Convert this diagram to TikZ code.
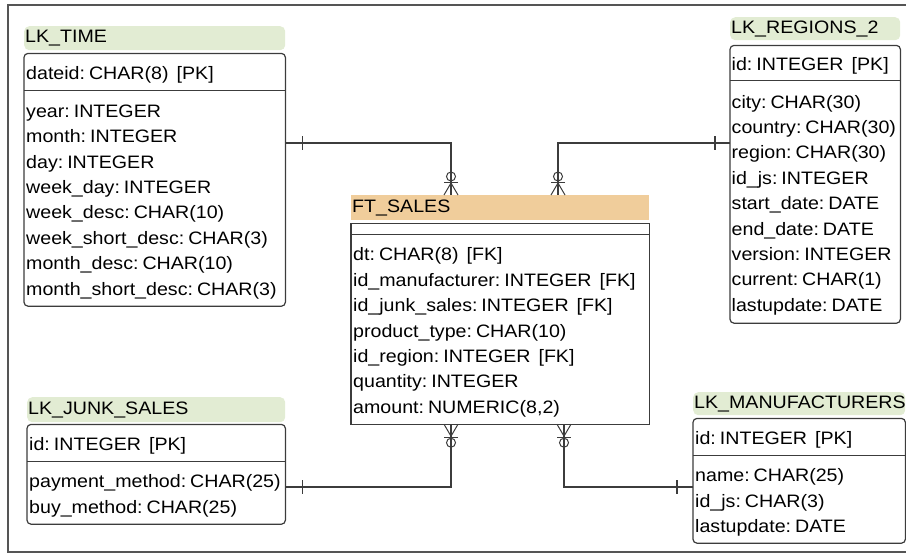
\documentclass[tikz,border=0pt]{standalone}
\usepackage{fontspec}
\setmainfont{Liberation Sans}[FakeStretch=1.09]
\usetikzlibrary{positioning}
\definecolor{titlegreen}{RGB}{226,236,211}
\definecolor{titleorange}{RGB}{240,205,155}
\definecolor{linegray}{RGB}{60,60,60}
\definecolor{framegray}{RGB}{85,85,85}
\tikzset{
  erfont/.style={font=\fontsize{18}{25.4}\selectfont},
  lktitle/.style={rectangle, rounded corners=5pt, fill=titlegreen, anchor=north west,
              inner xsep=1pt, inner ysep=0pt, align=left, erfont},
  fttitle/.style={lktitle, rounded corners=0pt, fill=titleorange},
  section/.style={rectangle, anchor=north west, inner xsep=2pt, inner ysep=0pt,
              align=left, erfont,
              execute at begin node={\frenchspacing\spaceskip=4pt\xspaceskip=4pt\relax\rule{0pt}{19pt}}},
  emptysection/.style={rectangle, anchor=north west, inner sep=0pt},
  tablebox/.style={draw=linegray, line width=1.2pt, rounded corners=4pt},
  conn/.style={draw=linegray, line width=1.2pt},
  onebar/.pic={\draw[conn] (0,-7) -- (0,7);},
  zeromany/.pic={
    \draw[conn, line width=1pt] (-7,0) -- (0,12) -- (7,0);
    \draw[conn, line width=1pt] (-7,13) -- (7,13);
    \draw[conn, line width=1pt] (0,18.5) circle (4.5);
  },
}

\begin{document}
\begin{tikzpicture}[x=1pt, y=-1pt]
    \useasboundingbox (0,0) rectangle (906,554);
    \draw[framegray, line width=2pt] (906,5) -- (8,5) -- (8,552) -- (906,552);

    % LK_TIME
    \node[lktitle, text width=259pt, minimum height=24pt] (timeT) at (24,26) {LK\_TIME};
    \node[section, text width=257pt, minimum height=37pt, below=3pt of timeT.south west, anchor=north west]
        (timeK) {dateid: CHAR(8)\ \ [PK]};
    \node[section, text width=257pt, minimum height=215pt, below=0pt of timeK.south west, anchor=north west]
        (timeA) {year: INTEGER\\ month: INTEGER\\ day: INTEGER\\ week\_day: INTEGER\\
                 week\_desc: CHAR(10)\\ week\_short\_desc: CHAR(3)\\ month\_desc: CHAR(10)\\
                 month\_short\_desc: CHAR(3)};
    \draw[tablebox] (timeK.north west) rectangle (timeA.south east);
    \draw[conn] (timeK.south west) -- (timeK.south east);

    % FT_SALES
    \node[fttitle, text width=296pt, minimum height=25pt] (salesT) at (351,195) {FT\_SALES};
    \node[emptysection, minimum width=298pt, minimum height=11pt, below=3pt of salesT.south west, anchor=north west]
        (salesK) {};
    \node[section, text width=294pt, minimum height=189pt, below=0pt of salesK.south west, anchor=north west]
        (salesA) {dt: CHAR(8)\ \ [FK]\\ id\_manufacturer: INTEGER\ \ [FK]\\
                  id\_junk\_sales: INTEGER\ \ [FK]\\ product\_type: CHAR(10)\\
                  id\_region: INTEGER\ \ [FK]\\ quantity: INTEGER\\ amount: NUMERIC(8,2)};
    \draw[tablebox, rounded corners=0pt] (salesK.north west) rectangle (salesA.south east);
    \draw[conn] (salesK.south west) -- (salesK.south east);

    % LK_REGIONS_2
    \node[lktitle, text width=168pt, minimum height=23pt] (regT) at (730,17) {LK\_REGIONS\_2};
    \node[section, text width=167pt, inner xsep=1.5pt, minimum height=35pt, below=5pt of regT.south west, anchor=north west]
        (regK) {id: INTEGER\ \ [PK]};
    \node[section, text width=167pt, inner xsep=1.5pt, minimum height=242pt, below=0pt of regK.south west, anchor=north west]
        (regA) {city: CHAR(30)\\ country: CHAR(30)\\ region: CHAR(30)\\ id\_js: INTEGER\\
                start\_date: DATE\\ end\_date: DATE\\ version: INTEGER\\ current: CHAR(1)\\
                lastupdate: DATE};
    \draw[tablebox] (regK.north west) rectangle (regA.south east);
    \draw[conn] (regK.south west) -- (regK.south east);

    % LK_JUNK_SALES
    \node[lktitle, text width=256pt, minimum height=25pt] (junkT) at (27,397) {LK\_JUNK\_SALES};
    \node[section, text width=254pt, minimum height=37pt, below=2pt of junkT.south west, anchor=north west]
        (junkK) {id: INTEGER\ \ [PK]};
    \node[section, text width=254pt, minimum height=62pt, below=0pt of junkK.south west, anchor=north west]
        (junkA) {payment\_method: CHAR(25)\\ buy\_method: CHAR(25)};
    \draw[tablebox] (junkK.north west) rectangle (junkA.south east);
    \draw[conn] (junkK.south west) -- (junkK.south east);

    % LK_MANUFACTURERS
    \node[lktitle, text width=210pt, minimum height=23pt] (manT) at (693,392) {LK\_MANUFACTURERS};
    \node[section, text width=208pt, minimum height=37pt, below=3pt of manT.south west, anchor=north west]
        (manK) {id: INTEGER\ \ [PK]};
    \node[section, text width=208pt, minimum height=87pt, below=0pt of manK.south west, anchor=north west]
        (manA) {name: CHAR(25)\\ id\_js: CHAR(3)\\ lastupdate: DATE};
    \draw[tablebox] (manK.north west) rectangle (manA.south east);
    \draw[conn] (manK.south west) -- (manK.south east);

    % relationships
    \coordinate (jt) at (451,143);
    \coordinate (jr) at (558,143);
    \coordinate (jj) at (451,487);
    \coordinate (jm) at (564,487);

    \draw[conn] (jt -| timeA.east) -- (jt) -- (jt |- salesT.north);
    \draw[conn] (jr -| regA.west) -- (jr) -- (jr |- salesT.north);
    \draw[conn] (jj -| junkA.east) -- (jj) -- (jj |- salesA.south);
    \draw[conn] (jm -| manA.west) -- (jm) -- (jm |- salesA.south);

    \pic at ([xshift=17pt]jt -| timeA.east) {onebar};
    \pic at ([xshift=-15pt]jr -| regA.west) {onebar};
    \pic at ([xshift=17pt]jj -| junkA.east) {onebar};
    \pic at ([xshift=-16pt]jm -| manA.west) {onebar};

    \pic[rotate=180] at (jt |- salesT.north) {zeromany};
    \pic[rotate=180] at (jr |- salesT.north) {zeromany};
    \pic at (jj |- salesA.south) {zeromany};
    \pic at (jm |- salesA.south) {zeromany};
\end{tikzpicture}
\end{document}
